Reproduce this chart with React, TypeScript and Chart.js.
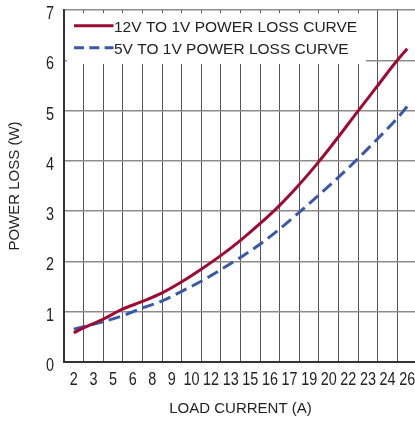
import React, { useEffect, useRef } from "react";
import { Chart, registerables } from "chart.js";

Chart.register(...registerables);

// ---- data ----
const xTickLabels = ["2", "3", "5", "6", "8", "9", "10", "12", "13", "15", "16", "17", "19", "20", "22", "23", "24", "26"];
const loadCurrent = [2, 2.7, 4.1, 5.5, 6.9, 8.4, 9.8, 11.2, 12.6, 14, 15.4, 16.8, 18.2, 19.6, 21, 22.4, 23.8, 25.2, 26];
const loss12V = [0.58, 0.68, 0.85, 1.05, 1.2, 1.38, 1.6, 1.85, 2.12, 2.42, 2.75, 3.11, 3.52, 3.97, 4.46, 4.97, 5.47, 5.97, 6.23];
const loss5V = [0.65, 0.7, 0.8, 0.92, 1.07, 1.22, 1.41, 1.61, 1.84, 2.08, 2.34, 2.64, 2.97, 3.31, 3.66, 4.03, 4.42, 4.82, 5.08];
const seriesNames = ["12V TO 1V POWER LOSS CURVE", "5V TO 1V POWER LOSS CURVE"];
const yTicks = [0, 1, 2, 3, 4, 5, 6, 7];
const xFirst = 2;
const xLast = 26;

const REGULAR = '"Liberation Sans", Arial, sans-serif';
const RED = "#a00a32";
const BLUE = "#3a58aa";
const TEXT = "#222222";
const NARROW_SCALE = 0.8;

const step = (xLast - xFirst) / (xTickLabels.length - 1);

const boxLegend = {
  id: "boxLegend",
  afterDatasetsDraw(chart: any) {
    const { ctx, chartArea } = chart;
    ctx.save();
    ctx.fillStyle = "#ffffff";
    ctx.fillRect(chartArea.left + 3, chartArea.top + 3, 299, 51);
    chart.data.datasets.forEach((ds: any, i: number) => {
      const y = chartArea.top + 15.7 + i * 22;
      ctx.strokeStyle = ds.borderColor;
      ctx.lineWidth = 3;
      ctx.setLineDash(i === 0 ? [] : [10, 5.3]);
      ctx.beginPath();
      ctx.moveTo(chartArea.left + 10, y);
      ctx.lineTo(chartArea.left + 49.5, y);
      ctx.stroke();
      ctx.setLineDash([]);
      ctx.fillStyle = TEXT;
      ctx.font = `15.5px ${REGULAR}`;
      ctx.textBaseline = "alphabetic";
      ctx.textAlign = "left";
      ctx.fillText(ds.label, chartArea.left + 50, y + 6.3);
    });
    ctx.restore();
  },
};

// tick labels in a condensed face (horizontally compressed Liberation Sans)
const narrowTicks = {
  id: "narrowTicks",
  afterDraw(chart: any) {
    const { ctx } = chart;
    const xs = chart.scales.x;
    const ys = chart.scales.y;
    ctx.save();
    ctx.fillStyle = TEXT;
    ctx.font = `18px ${REGULAR}`;
    ctx.textBaseline = "alphabetic";
    xs.ticks.forEach((t: any, i: number) => {
      const px = xs.getPixelForValue(t.value);
      ctx.save();
      ctx.translate(px, xs.top + 23);
      ctx.scale(NARROW_SCALE, 1);
      ctx.textAlign = "center";
      ctx.fillText(xTickLabels[i], 0, 0);
      ctx.restore();
    });
    ys.ticks.forEach((t: any) => {
      const py = ys.getPixelForValue(t.value);
      ctx.save();
      ctx.translate(ys.right - 10, py + 9);
      ctx.scale(NARROW_SCALE, 1);
      ctx.textAlign = "right";
      ctx.fillText(String(t.value), 0, 0);
      ctx.restore();
    });
    ctx.restore();
  },
};

export default function App() {
  const ref = useRef<HTMLCanvasElement | null>(null);

  useEffect(() => {
    if (!ref.current) return;
    const chart = new Chart(ref.current, {
      type: "line",
      data: {
        datasets: [
          {
            label: seriesNames[0],
            data: loadCurrent.map((x, i) => ({ x, y: loss12V[i] })),
            borderColor: RED,
            borderWidth: 3,
            pointRadius: 0,
            cubicInterpolationMode: "monotone",
            fill: false,
          },
          {
            label: seriesNames[1],
            data: loadCurrent.map((x, i) => ({ x, y: loss5V[i] })),
            borderColor: BLUE,
            borderWidth: 3,
            borderDash: [12, 6],
            pointRadius: 0,
            cubicInterpolationMode: "monotone",
            fill: false,
          },
        ],
      },
      options: {
        animation: false,
        responsive: false,
        maintainAspectRatio: false,
        layout: { padding: { top: 10, right: 13, left: 0, bottom: 0 } },
        plugins: { legend: { display: false }, tooltip: { enabled: false } },
        scales: {
          x: {
            type: "linear",
            min: xFirst - step / 2,
            max: xLast + step / 2,
            afterBuildTicks: (scale: any) => {
              scale.ticks = xTickLabels.map((_, i) => ({ value: xFirst + i * step }));
            },
            afterFit: (scale: any) => {
              scale.height = 60;
            },
            ticks: { display: false, autoSkip: false, maxRotation: 0, minRotation: 0 },
            grid: { offset: true, color: "#555555", lineWidth: 1, drawTicks: false },
            border: { color: "#333333", width: 2 },
            title: {
              display: true,
              text: "LOAD CURRENT (A)",
              color: TEXT,
              font: { family: REGULAR, size: 15 },
              padding: { top: 0, bottom: 4 },
            },
          },
          y: {
            min: 0,
            max: 7,
            afterBuildTicks: (scale: any) => {
              scale.ticks = yTicks.map((v) => ({ value: v }));
            },
            afterFit: (scale: any) => {
              scale.width = 64;
            },
            ticks: { display: false },
            grid: { color: "#8c8c8c", lineWidth: 1.5, drawTicks: false },
            border: { color: "#333333", width: 2 },
            title: {
              display: true,
              text: "POWER LOSS (W)",
              color: TEXT,
              font: { family: REGULAR, size: 15 },
              padding: { top: 5.5, bottom: 0 },
            },
          },
        },
      },
      plugins: [boxLegend, narrowTicks],
    });
    return () => chart.destroy();
  }, []);

  return (
    <div style={{ position: "absolute", left: 0, top: 0, width: 415, height: 422, overflow: "hidden" }}>
      <canvas ref={ref} width={430} height={422} style={{ display: "block" }} />
    </div>
  );
}
